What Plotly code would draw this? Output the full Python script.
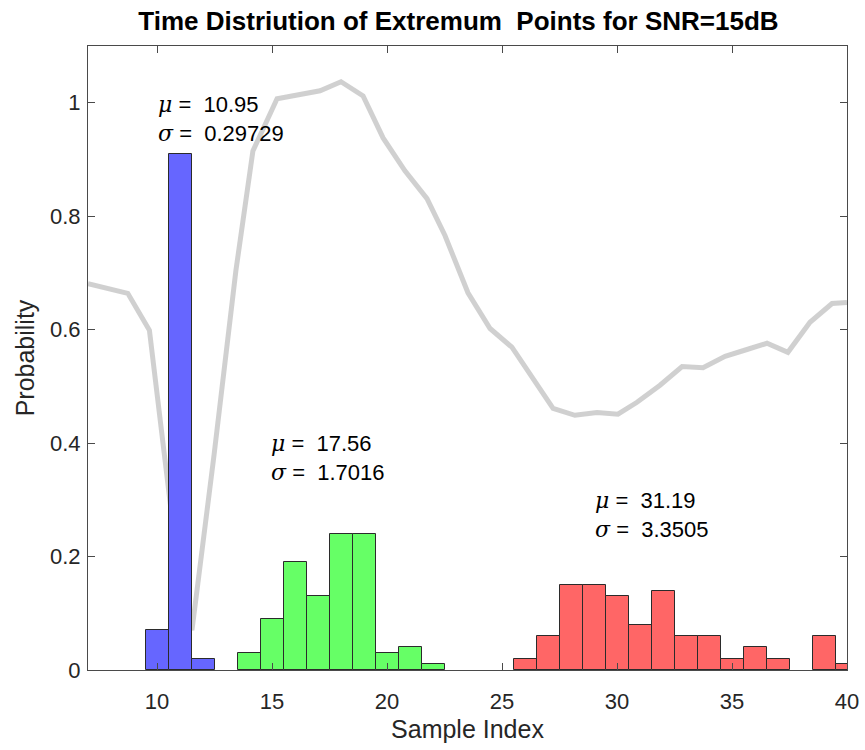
import plotly.graph_objects as go

# Histogram bins (bin centres, width 1) and probabilities for each extremum
blue_x = [10, 11, 12]
blue_p = [0.07, 0.91, 0.02]

green_x = [14, 15, 16, 17, 18, 19, 20, 21, 22]
green_p = [0.03, 0.09, 0.19, 0.13, 0.24, 0.24, 0.03, 0.04, 0.01]

red_x = [26, 27, 28, 29, 30, 31, 32, 33, 34, 35, 36, 37, 39, 40]
red_p = [0.02, 0.06, 0.15, 0.15, 0.13, 0.08, 0.14, 0.06, 0.06, 0.02, 0.04, 0.02, 0.06, 0.01]

# Reference waveform drawn behind the histograms
wave_x = [7.0, 8.73, 9.67, 10.61, 11.52, 12.48, 13.43, 14.17, 15.22, 17.09, 18.0,
          18.96, 19.83, 20.78, 21.74, 22.52, 23.52, 24.48, 25.43, 27.22, 28.17,
          29.13, 30.04, 30.87, 31.87, 32.83, 33.74, 34.70, 35.65, 36.52, 37.43,
          38.39, 39.35, 40.0]
wave_y = [0.681, 0.664, 0.599, 0.282, 0.070, 0.379, 0.704, 0.915, 1.007, 1.021, 1.037,
          1.012, 0.938, 0.880, 0.831, 0.766, 0.665, 0.602, 0.569, 0.461, 0.449,
          0.454, 0.451, 0.472, 0.502, 0.535, 0.533, 0.553, 0.565, 0.576, 0.560,
          0.613, 0.646, 0.648]

# Statistics labels: (x, y, mean, std)
stats = [
    (9.95, 0.972, "10.95", "0.29729"),
    (14.88, 0.374, "17.56", "1.7016"),
    (28.97, 0.273, "31.19", "3.3505"),
]

x_ticks = [10, 15, 20, 25, 30, 35, 40]
y_ticks = [0, 0.2, 0.4, 0.6, 0.8, 1]
y_tick_text = ["0", "0.2", "0.4", "0.6", "0.8", "1"]

FONT = "Liberation Sans, Arial, sans-serif"
AX = "#4a4a4a"
TXT = "#262626"
X_RANGE = [7, 40]
Y_RANGE = [0, 1.1]

fig = go.Figure()

# waveform on the base axes so the bars (on the overlaid axes) cover it
fig.add_trace(go.Scatter(
    x=wave_x, y=wave_y, mode="lines",
    line=dict(color="rgba(200,200,200,0.85)", width=5),
    hoverinfo="skip", showlegend=False, xaxis="x", yaxis="y",
))

for xs, ps, col in [(blue_x, blue_p, "#6666ff"),
                    (green_x, green_p, "#66ff66"),
                    (red_x, red_p, "#ff6666")]:
    fig.add_trace(go.Bar(
        x=xs, y=ps, width=1,
        marker=dict(color=col, line=dict(color="#2b2b2b", width=1)),
        showlegend=False, xaxis="x2", yaxis="y2",
    ))

greek = '<span style="font-family:DejaVu Serif"><i>{}</i></span>'
for x, y, mu, sd in stats:
    fig.add_annotation(
        x=x, y=y, xref="x", yref="y",
        text=greek.format("μ") + " =\u00a0 " + mu + "<br>" + greek.format("σ") + " =\u00a0 " + sd,
        showarrow=False, xanchor="left", yanchor="middle", align="left",
        font=dict(family=FONT, size=22, color="#000000"),
    )

fig.update_layout(
    width=865, height=750,
    margin=dict(l=88, r=18, t=46, b=80),
    paper_bgcolor="white", plot_bgcolor="white",
    bargap=0,
    barmode="overlay",
    title=dict(
        text="<b>Time Distriution of Extremum\u00a0 Points for SNR=15dB</b>",
        x=0.53, xanchor="center", y=0.972, yanchor="middle",
        font=dict(family=FONT, size=26, color="#000000"),
    ),
    xaxis=dict(
        range=X_RANGE, tickvals=x_ticks, automargin=False,
        ticks="inside", ticklen=7, tickcolor=AX, tickwidth=1,
        showline=True, linecolor=AX, linewidth=1, mirror="ticks",
        showgrid=False, zeroline=False,
        tickfont=dict(family=FONT, size=22, color=TXT),
        ticklabelstandoff=12,
        title=dict(text="Sample Index", font=dict(family=FONT, size=25, color=TXT), standoff=7),
    ),
    yaxis=dict(
        range=Y_RANGE, tickvals=y_ticks, ticktext=y_tick_text, automargin=False,
        ticks="inside", ticklen=7, tickcolor=AX, tickwidth=1,
        showline=True, linecolor=AX, linewidth=1, mirror="ticks",
        showgrid=False, zeroline=False,
        tickfont=dict(family=FONT, size=22, color=TXT),
        ticklabelstandoff=2,
        title=dict(text="Probability", font=dict(family=FONT, size=25, color=TXT), standoff=8),
    ),
    xaxis2=dict(range=X_RANGE, overlaying="x", matches="x", visible=False),
    yaxis2=dict(range=Y_RANGE, overlaying="y", matches="y", visible=False),
)

fig.write_html("out.html")
